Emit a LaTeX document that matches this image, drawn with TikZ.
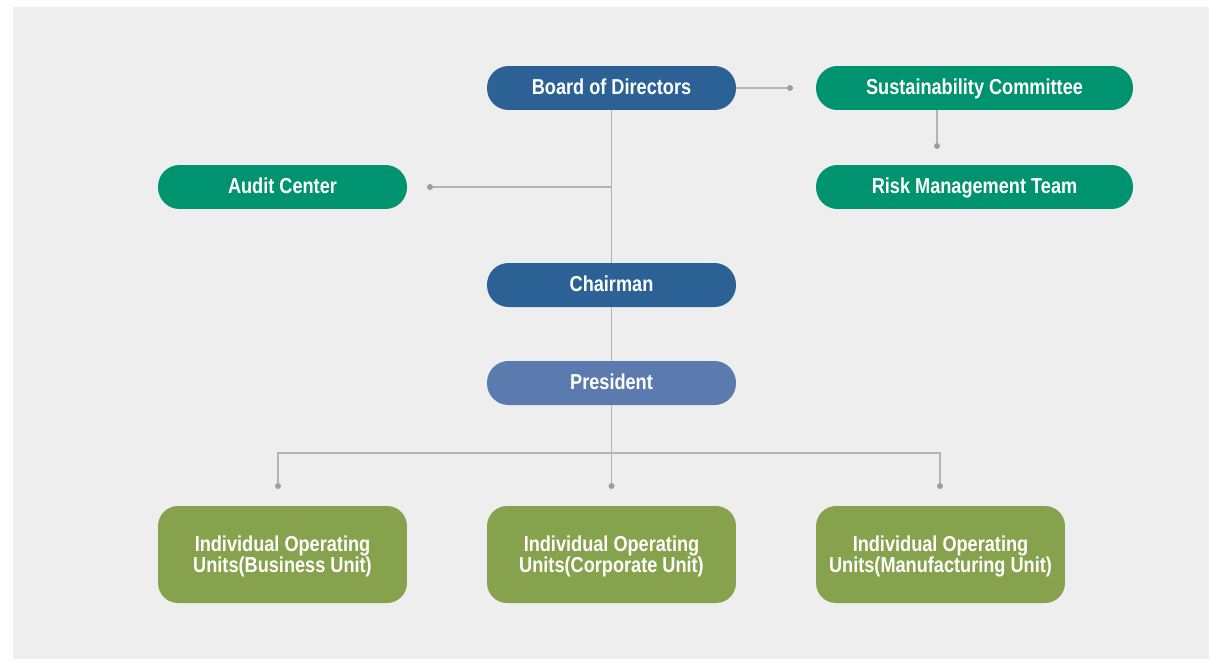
\documentclass[tikz,border=0pt]{standalone}
\usepackage{fontspec}
\setmainfont{Liberation Sans}[FakeStretch=0.84]
\usepackage{tikz}

\definecolor{boardblue}{HTML}{2C6196}
\definecolor{presblue}{HTML}{5B7BAE}
\definecolor{comgreen}{HTML}{00936F}
\definecolor{unitgreen}{HTML}{87A24C}
\definecolor{bggray}{HTML}{EEEEEE}
\definecolor{linegray}{HTML}{B4B4B4}
\definecolor{dotgray}{HTML}{9E9E9E}

\begin{document}
\begin{tikzpicture}[x=0.02cm,y=-0.02cm,
    pill/.style={rounded corners=0.43cm,minimum width=4.98cm,minimum height=0.88cm,
        inner sep=0pt,text=white,text height=0.72em,text depth=-1.2pt,
        font=\fontsize{12.3}{14}\selectfont\bfseries},
    unitbox/.style={fill=unitgreen,rounded corners=0.4cm,minimum width=4.98cm,
        minimum height=1.94cm,inner sep=0pt,text=white,align=center,text depth=-2pt,
        font=\fontsize{12.3}{12}\selectfont\bfseries},
    link/.style={draw=linegray,line width=0.8pt},
    dot/.style={fill=dotgray,circle,inner sep=0pt,minimum size=0.12cm}]
        \useasboundingbox (0,0) rectangle (1209,659);
        \fill[bggray] (13,7) rectangle (1209,659);

        \node[pill,fill=boardblue] (board) at (611.5,88) {Board of Directors};
        \node[pill,fill=comgreen,minimum width=6.34cm] (sust) at (974.5,88) {Sustainability Committee};
        \node[pill,fill=comgreen,minimum width=6.34cm] (risk) at (974.5,187) {Risk Management Team};
        \node[pill,fill=comgreen] (audit) at (282.5,187) {Audit Center};
        \node[pill,fill=boardblue] (chair) at (611.5,285) {Chairman};
        \node[pill,fill=presblue] (pres) at (611.5,383) {President};

        \node[unitbox] (bu) at (282.5,554.5) {Individual Operating\\Units(Business Unit)};
        \node[unitbox] (cu) at (611.5,554.5) {Individual Operating\\Units(Corporate Unit)};
        \node[unitbox] (mu) at (940.5,554.5) {Individual Operating\\Units(Manufacturing Unit)};

        \node[dot] (sdot) at (790,88) {};
        \node[dot] (rdot) at (937,146) {};
        \node[dot] (adot) at (430,187) {};
        \node[dot] (budot) at (278,486) {};
        \node[dot] (cudot) at (611.5,486) {};
        \node[dot] (mudot) at (940,486) {};
        \coordinate (abranch) at (611.5,187);
        \coordinate (ubranch) at (611.5,453);

        \draw[link] (board.east) -- (sdot);
        \draw[link] (sust.south -| rdot) -- (rdot);
        \draw[link] (board) -- (chair);
        \draw[link] (abranch) -- (adot);
        \draw[link] (chair) -- (pres);
        \draw[link] (pres) -- (cudot);
        \draw[link] (budot) |- (ubranch) -| (mudot);
\end{tikzpicture}
\end{document}
